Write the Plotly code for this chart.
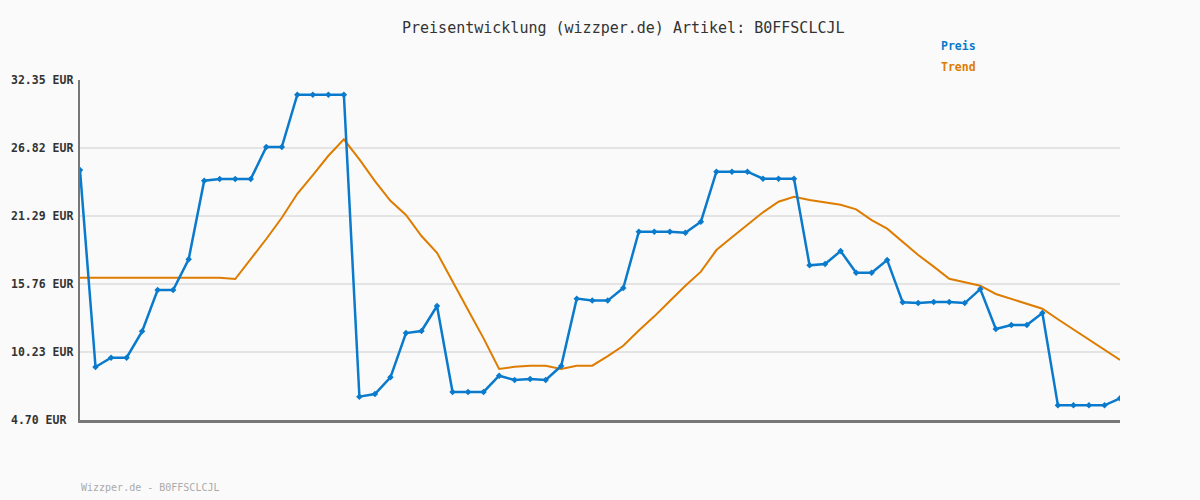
import plotly.graph_objects as go

preis = [25.03, 9.01, 9.77, 9.77, 11.91, 15.27, 15.27, 17.77, 24.16, 24.30,
         24.30, 24.30, 26.90, 26.90, 31.16, 31.16, 31.16, 31.16, 6.60, 6.81,
         8.17, 11.77, 11.94, 13.97, 6.98, 6.98, 6.98, 8.30, 7.95, 8.03,
         7.95, 9.09, 14.57, 14.41, 14.41, 15.43, 20.01, 20.01, 20.01, 19.93,
         20.83, 24.89, 24.89, 24.89, 24.32, 24.32, 24.32, 17.28, 17.38, 18.44,
         16.68, 16.68, 17.71, 14.27, 14.21, 14.30, 14.30, 14.21, 15.35, 12.10,
         12.42, 12.42, 13.40, 5.89, 5.89, 5.89, 5.89, 6.46]

trend = [16.27, 16.27, 16.27, 16.27, 16.27, 16.27, 16.27, 16.27, 16.27, 16.27,
         16.16, 17.77, 19.42, 21.15, 23.10, 24.62, 26.19, 27.52, 25.90, 24.13,
         22.53, 21.37, 19.66, 18.30, 16.03, 13.65, 11.34, 8.85, 9.03, 9.12,
         9.12, 8.85, 9.12, 9.12, 9.90, 10.74, 11.97, 13.13, 14.38, 15.62,
         16.76, 18.52, 19.56, 20.58, 21.59, 22.45, 22.86, 22.59, 22.37, 22.21,
         21.83, 20.96, 20.26, 19.20, 18.12, 17.17, 16.19, 15.90, 15.62, 14.95,
         14.54, 14.13, 13.75, 12.89, 12.08, 11.26, 10.42, 9.58]

y_ticks = [4.70, 10.23, 15.76, 21.29, 26.82, 32.35]
y_tick_labels = ["4.70 EUR", "10.23 EUR", "15.76 EUR", "21.29 EUR", "26.82 EUR", "32.35 EUR"]

title_text = "Preisentwicklung (wizzper.de) Artikel: B0FFSCLCJL"
footer_text = "Wizzper.de - B0FFSCLCJL"
series_names = ["Preis", "Trend"]

BLUE = "#0a7acc"
ORANGE = "#de7c00"
MONO = "DejaVu Sans Mono"

x = list(range(len(preis)))

fig = go.Figure()
fig.add_trace(go.Scatter(x=x, y=trend, mode="lines", name=series_names[1],
                         line=dict(color=ORANGE, width=2)))
fig.add_trace(go.Scatter(x=x, y=preis, mode="lines+markers", name=series_names[0],
                         line=dict(color=BLUE, width=2.5),
                         marker=dict(symbol="diamond", size=5, color=BLUE)))

annotations = []
for v, t in zip(y_ticks, y_tick_labels):
    annotations.append(dict(x=-71 / 1040, xref="paper", y=v, yref="y", text=t,
                            showarrow=False, xanchor="left", yanchor="middle",
                            font=dict(family=MONO, size=11.5, color="#333333", weight="bold")))
annotations.append(dict(x=(623 - 80) / 1040, xref="paper", y=(420 - 28) / 340, yref="paper",
                        text=title_text, showarrow=False, xanchor="center", yanchor="middle",
                        font=dict(family=MONO, size=15, color="#333333")))
annotations.append(dict(x=(939 - 80) / 1040, xref="paper", y=(420 - 46) / 340, yref="paper",
                        text=series_names[0], showarrow=False, xanchor="left", yanchor="middle",
                        font=dict(family=MONO, size=11.5, color=BLUE, weight="bold")))
annotations.append(dict(x=(939 - 80) / 1040, xref="paper", y=(420 - 67) / 340, yref="paper",
                        text=series_names[1], showarrow=False, xanchor="left", yanchor="middle",
                        font=dict(family=MONO, size=11.5, color=ORANGE, weight="bold")))
annotations.append(dict(x=-1 / 1040, xref="paper", y=(420 - 487) / 340, yref="paper",
                        text=footer_text, showarrow=False, xanchor="left", yanchor="middle",
                        font=dict(family=MONO, size=10, color="#aaaaaa")))

fig.update_layout(
    width=1200, height=500,
    margin=dict(l=80, r=80, t=80, b=80),
    paper_bgcolor="#fafafa", plot_bgcolor="#fafafa",
    showlegend=False,
    annotations=annotations,
    xaxis=dict(range=[0, len(preis) - 1], showgrid=False, zeroline=False,
               showticklabels=False, ticks="", showline=True, linecolor="#777777",
               linewidth=3),
    yaxis=dict(range=[y_ticks[0], y_ticks[-1]], tickvals=y_ticks, showticklabels=False,
               showgrid=True, gridcolor="#e4e4e4", gridwidth=2, zeroline=False,
               showline=True, linecolor="#777777", linewidth=2, ticks=""),
)

fig.write_html("out.html", config={"displayModeBar": False},
               post_script="document.body.style.margin='0';document.body.style.background='#fafafa';")
